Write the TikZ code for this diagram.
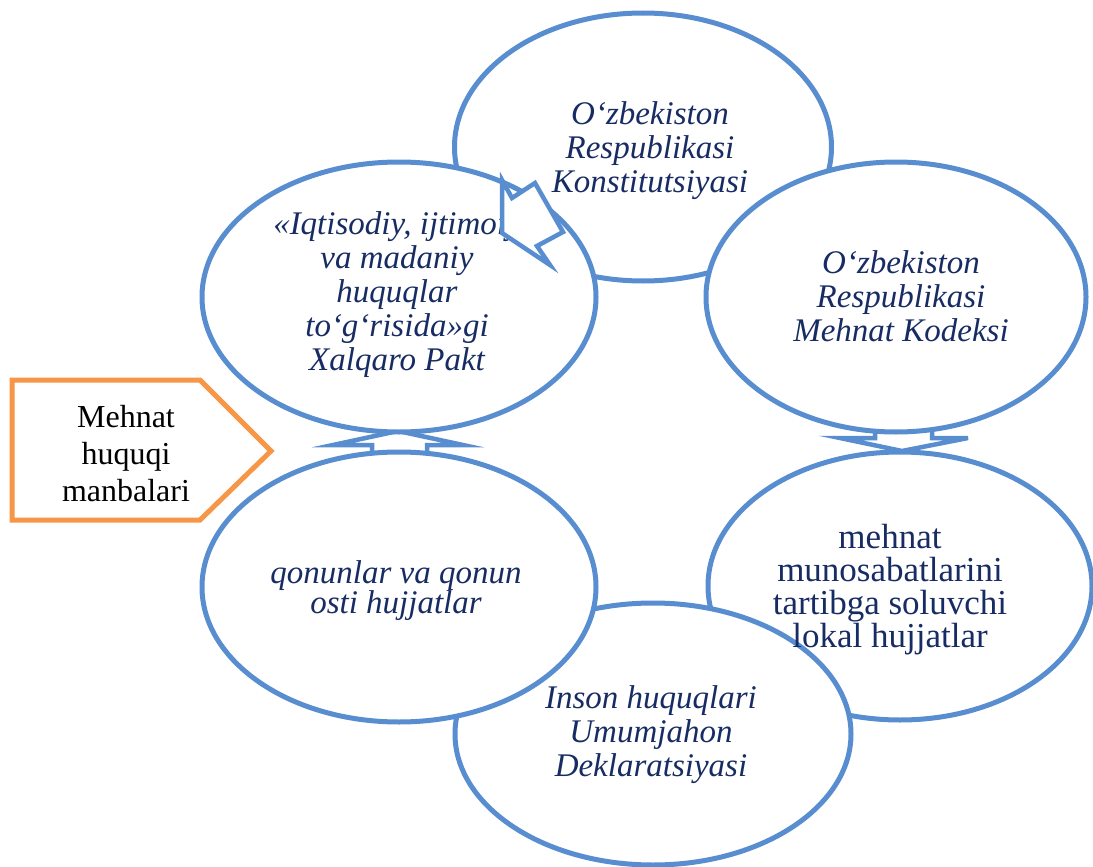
\documentclass[tikz,border=0pt]{standalone}
\usepackage{fontspec}
\setmainfont{Liberation Serif}
\usetikzlibrary{shapes.geometric}
\definecolor{ringblue}{RGB}{88,141,208}
\definecolor{inkblue}{RGB}{24,44,100}
\definecolor{tagorange}{RGB}{247,150,70}
\begin{document}
\begin{tikzpicture}[x=1pt,y=-1pt,
  ring/.style={ellipse, draw=ringblue, line width=5pt, fill=white, inner sep=0pt},
  blockarrow/.style={draw=ringblue, line width=4.5pt, fill=white, line join=miter},
  itext/.style={text=inkblue, align=center, inner sep=0pt, font=\fontsize{33}{34}\selectfont\itshape},
  rtext/.style={text=inkblue, align=center, inner sep=0pt, font=\fontsize{35}{33}\selectfont},
  tagtext/.style={text=black, align=center, inner sep=0pt, font=\fontsize{32}{37}\selectfont},
]
\useasboundingbox (0,0) rectangle (1093,867);

% block arrows that sit between neighbouring rings
\draw[blockarrow] (875,400) -- (875,438) -- (840,438) -- (902,451) -- (968,438)
  -- (932,438) -- (932,400) -- cycle;
\draw[blockarrow] (372,480) -- (372,445) -- (333,445) -- (398,431) -- (463,445)
  -- (427,445) -- (427,480) -- cycle;

% the six rings, back to front
\node[ring, minimum width=377pt, minimum height=268pt] (constitution) at (643,147) {};
\node[ring, minimum width=384pt, minimum height=268pt] (local) at (900,586) {};
\node[ring, minimum width=396pt, minimum height=262pt] (declaration) at (653,734) {};
\node[ring, minimum width=394pt, minimum height=270pt] (laws) at (399,587) {};
\node[ring, minimum width=394pt, minimum height=270pt] (pact) at (399,297) {};
\node[ring, minimum width=380pt, minimum height=270pt] (labourcode) at (896,297) {};

% ring captions
\node[itext] (tconstitution) at (650,151) {O‘zbekiston\\Respublikasi\\Konstitutsiyasi};
\node[itext] (tlabourcode) at (901,296) {O‘zbekiston\\Respublikasi\\Mehnat Kodeksi};
\node[itext] (tpact) at (397,295) {«Iqtisodiy, ijtimoiy\\va madaniy\\huquqlar\\to‘g‘risida»gi\\Xalqaro Pakt};
\node[rtext] (tlocal) at (890,590) {mehnat\\munosabatlarini\\tartibga soluvchi\\lokal hujjatlar};
\node[itext, font=\fontsize{33}{30}\selectfont\itshape] (tlaws) at (396,591) {qonunlar va qonun\\osti hujjatlar};
\node[itext] (tdeclaration) at (651,735) {Inson huquqlari\\Umumjahon\\Deklaratsiyasi};

% arrow from the constitution ring into the pact ring
\draw[blockarrow] (502,233) -- (550,265) -- (537,246) -- (563,232) -- (535,183)
  -- (512,198) -- (502,180) -- cycle;

% title tag
\draw[draw=tagorange, line width=5pt, fill=white, line join=miter]
  (12,380) -- (200,380) -- (271,451) -- (200,520) -- (12,520) -- cycle;
\node[tagtext] (title) at (126,454) {Mehnat\\huquqi\\manbalari};
\end{tikzpicture}
\end{document}
